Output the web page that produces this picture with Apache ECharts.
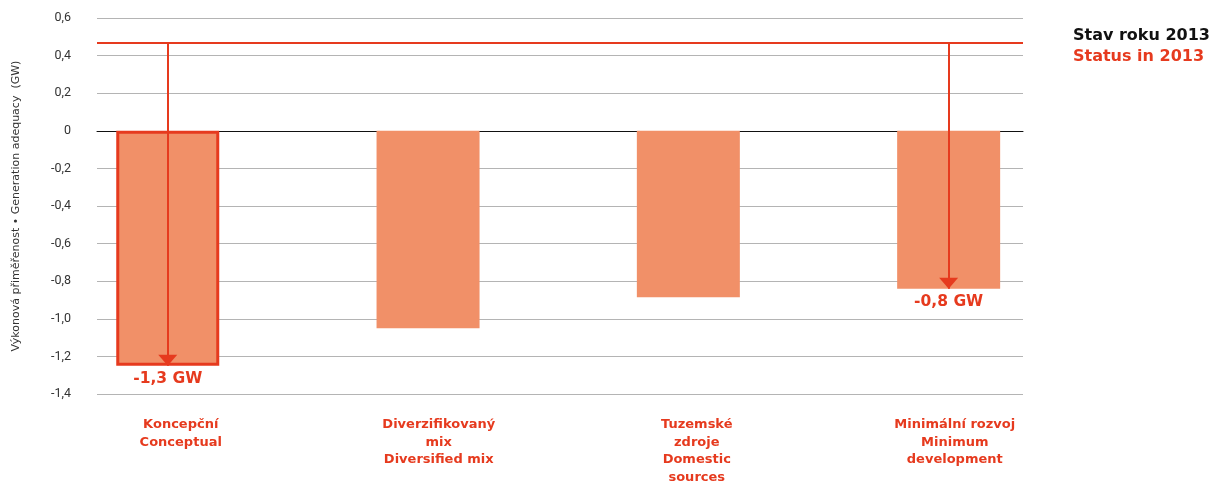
<!DOCTYPE html>
<html>
<head>
<meta charset="utf-8">
<script src="https://cdn.jsdelivr.net/npm/echarts@6/dist/echarts.min.js"></script>
<style>
  html, body { margin: 0; padding: 0; background: #fff; }
  #chart { width: 1213px; height: 482px; }
</style>
</head>
<body>
<div id="chart"></div>
<script>
// Scenario names (Czech / English), shown under each bar
const categories = [
  'Koncepční\nConceptual',
  'Diverzifikovaný\nmix\nDiversified mix',
  'Tuzemské\nzdroje\nDomestic\nsources',
  'Minimální rozvoj\nMinimum\ndevelopment'
];
// Generation adequacy per scenario (GW)
const adequacy = [-1.25, -1.05, -0.885, -0.84];
// Reference level: status in 2013 (GW)
const status2013 = 0.47;
// Scenarios that get a drop arrow and value label
const highlighted = [0, 3];
// Value axis range and step
const yMin = -1.4, yMax = 0.6, yStep = 0.2;

const RED = '#e63a1e';
const FILL = '#f19068';
const FONT = '"DejaVu Sans", "Noto Sans", sans-serif';
const TICK_FONT = 'Roboto, "Noto Sans", sans-serif';

const fmtTick = v => {
  const r = Math.round(v * 10) / 10;
  return r === 0 ? '0' : r.toFixed(1).replace('.', ',');
};
const fmtGW = v => v.toFixed(1).replace('.', ',') + ' GW';

const barData = adequacy.map((v, i) => {
  const item = { value: v };
  if (i === 0) item.itemStyle = { borderColor: RED, borderWidth: 3 };
  if (highlighted.includes(i)) {
    item.label = {
      show: true, position: 'bottom', distance: 5,
      formatter: () => fmtGW(v),
      color: RED, fontWeight: 'bold', fontSize: 15.5, fontFamily: FONT
    };
  }
  return item;
});

const arrows = highlighted.map(i => [
  { coord: [i, status2013] },
  { coord: [i, adequacy[i]] }
]);

const chart = echarts.init(document.getElementById('chart'), null, { renderer: 'canvas' });
chart.setOption({
  animation: false,
  grid: [
    // gridlines, value axis and reference line
    { left: 97, right: 190, top: 18, height: 376, outerBoundsMode: 'none' },
    // bars
    { left: 37.6, width: 1041.2, top: 18, height: 376, outerBoundsMode: 'none' },
    // scenario names
    { left: 51.75, width: 1032, top: 18, height: 376, outerBoundsMode: 'none' }
  ],
  xAxis: [
    {
      gridIndex: 0, type: 'category', data: [''],
      axisLine: { show: true, onZero: true, lineStyle: { color: '#111', width: 1 } },
      axisTick: { show: false }, axisLabel: { show: false }, splitLine: { show: false }
    },
    {
      gridIndex: 1, type: 'category', data: categories,
      axisLine: { show: false }, axisTick: { show: false }, axisLabel: { show: false }
    },
    {
      gridIndex: 2, type: 'category', data: categories,
      axisLine: { show: false }, axisTick: { show: false },
      axisLabel: {
        margin: 22, color: RED, fontWeight: 'bold', fontSize: 13,
        lineHeight: 17.5, fontFamily: FONT, interval: 0
      }
    }
  ],
  yAxis: [
    {
      gridIndex: 0, type: 'value', min: yMin, max: yMax, interval: yStep,
      name: 'Výkonová přiměřenost • Generation adequacy  (GW)',
      nameLocation: 'middle', nameGap: 75,
      nameTextStyle: { color: '#333', fontSize: 11, fontFamily: FONT },
      axisLine: { show: false }, axisTick: { show: false },
      axisLabel: { margin: 26, color: '#333', fontSize: 12.5, fontFamily: TICK_FONT, formatter: fmtTick },
      splitLine: { lineStyle: { color: '#b4b4b4', width: 1 } }
    },
    {
      gridIndex: 1, type: 'value', min: yMin, max: yMax, interval: yStep,
      show: false, splitLine: { show: false }
    },
    {
      gridIndex: 2, type: 'value', min: yMin, max: yMax, interval: yStep,
      show: false, splitLine: { show: false }
    }
  ],
  series: [
    {
      type: 'line', xAxisIndex: 0, yAxisIndex: 0, data: [],
      markLine: {
        silent: true, symbol: 'none',
        label: { show: false },
        lineStyle: { color: RED, width: 2, type: 'solid' },
        data: [{ yAxis: status2013 }]
      }
    },
    {
      type: 'bar', xAxisIndex: 1, yAxisIndex: 1, data: barData,
      barWidth: 103, itemStyle: { color: FILL },
      markLine: {
        silent: true, symbol: ['none', 'triangle'], symbolSize: [19, 11],
        symbolOffset: [0, [0, 5.5]],
        label: { show: false },
        lineStyle: { color: RED, width: 2, type: 'solid' },
        data: arrows
      }
    }
  ],
  graphic: [
    {
      type: 'text', x: 1073, y: 36,
      style: { text: 'Stav roku 2013', fill: '#111', font: 'bold 16px ' + FONT, verticalAlign: 'middle' }
    },
    {
      type: 'text', x: 1073, y: 57,
      style: { text: 'Status in 2013', fill: RED, font: 'bold 16px ' + FONT, verticalAlign: 'middle' }
    }
  ]
});
</script>
</body>
</html>
